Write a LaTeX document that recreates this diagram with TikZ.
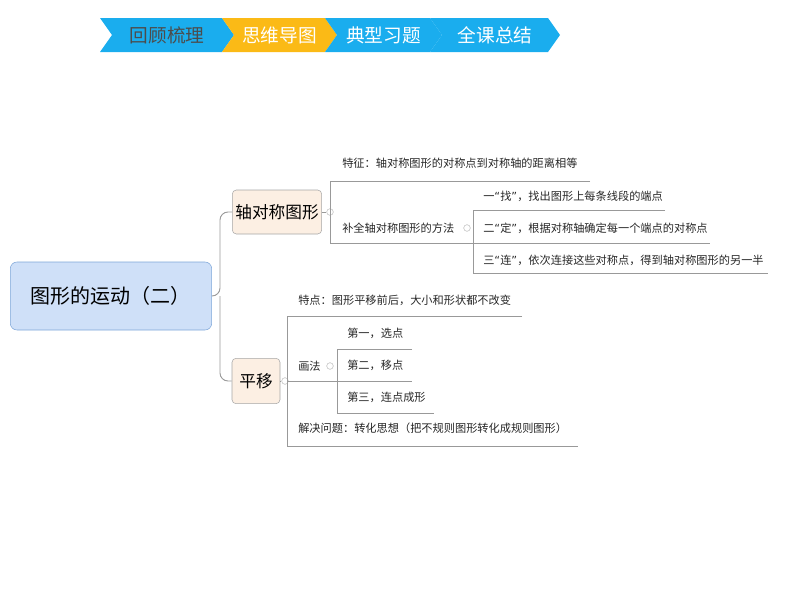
\documentclass[tikz,border=0pt]{standalone}
\usepackage{fontspec}
\setmainfont{Noto Sans CJK SC}
\newfontfamily\quotefont{DejaVu Sans}
\usetikzlibrary{positioning}
\definecolor{tabblue}{HTML}{1AADEE}
\definecolor{tabyellow}{HTML}{FBBA16}
\definecolor{rootfill}{HTML}{CFE0F8}
\definecolor{rootline}{HTML}{7EA6D8}
\definecolor{topicfill}{HTML}{FCEFE3}
\newcommand{\quoted}[1]{{\quotefont“}#1{\quotefont”}}
\tikzset{
  tab/.style={font=\fontsize{14}{16}\selectfont, anchor=center},
  topic/.style={draw=gray!70, fill=topicfill, rounded corners=3pt, font=\fontsize{12.5}{14}\selectfont, inner sep=0pt},
  leaf/.style={anchor=west, font=\fontsize{8.4}{10}\selectfont, inner sep=0pt, text=black!85},
  wire/.style={draw=gray!80, line width=0.7pt},
  knob/.style={draw=gray!50, circle, inner sep=0pt, minimum size=5pt}
}
\begin{document}
\begin{tikzpicture}[x=0.75pt,y=-0.75pt]
\useasboundingbox (0,0) rectangle (794,596);
% tabs
\foreach \xa/\xb/\col/\txt/\tcol in {100/222/tabblue/回顾梳理/black!70, 222/325/tabyellow/思维导图/white, 325/430/tabblue/典型习题/white, 430/548/tabblue/全课总结/white}
{
  \fill[\col] (\xa,18) -- (\xb,18) -- (\xb+12,35) -- (\xb,52) -- (\xa,52) -- (\xa+12,35) -- cycle;
  \node[tab, text=\tcol] at ({(\xa+\xb)/2+6},35) {\txt};
}
% root and topics
\node[draw=rootline, fill=rootfill, rounded corners=5pt, minimum width=151pt, minimum height=51pt, font=\fontsize{15}{18}\selectfont] (root) at (111,296) {图形的运动（二）};
\node[topic, minimum width=67pt, minimum height=33pt] (axis) at (277,212) {轴对称图形};
\node[topic, minimum width=36pt, minimum height=34pt] (shift) at (256,381) {平移};
\draw[wire, rounded corners=6pt] (root.east) -- (220,296) |- (axis.west);
\draw[wire, rounded corners=6pt] (220,296) |- (shift.west);

% branch 1
\node[knob] (k1) at (330,212) {};
\draw[wire] (axis.east) -- (k1);
\node[leaf] (feat) at (342,163) {特征：轴对称图形的对称点到对称轴的距离相等};
\node[leaf] (method) at (342,228) {补全轴对称图形的方法};
\node[knob] (k2) at (467,228) {};
\draw[wire] (590,181) -- (330,181) -- (330,243) -- (473,243);
\node[leaf] (find) at (483,196) {一\quoted{找}，找出图形上每条线段的端点};
\node[leaf] (fix) at (483,228) {二\quoted{定}，根据对称轴确定每一个端点的对称点};
\node[leaf] (link) at (483,260) {三\quoted{连}，依次连接这些对称点，得到轴对称图形的另一半};
\draw[wire] (665,210) -- (473,210) -- (473,273) -- (768,273);
\draw[wire] (473,243) -- (710,243);

% branch 2
\node[knob] (k3) at (285,381) {};
\draw[wire] (shift.east) -- (k3);
\node[leaf] (trait) at (298,300) {特点：图形平移前后，大小和形状都不改变};
\node[leaf] (draw) at (298,366) {画法};
\node[knob] (k4) at (330,366) {};
\node[leaf] (s1) at (347,333) {第一，选点};
\node[leaf] (s2) at (347,365) {第二，移点};
\node[leaf] (s3) at (347,397) {第三，连点成形};
\node[leaf] (solve) at (298,428) {解决问题：转化思想（把不规则图形转化成规则图形）};
\draw[wire] (522,316) -- (287,316) -- (287,446) -- (578,446);
\draw[wire] (287,381) -- (412,381);
\draw[wire] (412,349) -- (337,349) -- (337,413) -- (434,413);
\end{tikzpicture}
\end{document}
